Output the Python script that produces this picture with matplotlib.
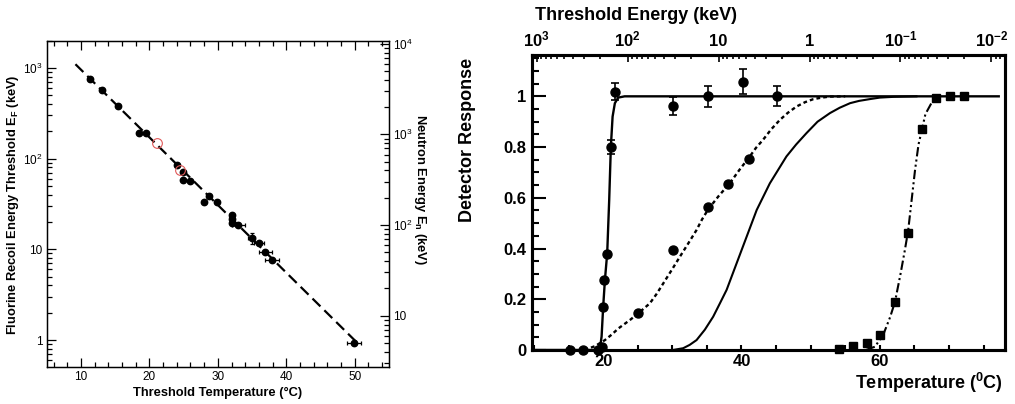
import matplotlib
matplotlib.use('Agg')
import matplotlib.pyplot as plt
from matplotlib.ticker import MultipleLocator, FixedLocator, FixedFormatter, LogLocator, NullFormatter
import numpy as np

plt.rcParams['font.family'] = ['Liberation Sans', 'DejaVu Sans']
plt.rcParams['mathtext.fontset'] = 'custom'
plt.rcParams['mathtext.rm'] = 'Liberation Sans'
plt.rcParams['mathtext.it'] = 'Liberation Sans:italic'
plt.rcParams['mathtext.bf'] = 'Liberation Sans:bold'

# ---------------- Left panel data ----------------
thr_T = [11.4, 13.1, 15.45, 18.45, 19.5, 24.0, 24.95, 24.95, 26.0, 27.95, 28.7, 29.9,
         32.0, 32.0, 32.0, 33.0, 34.95, 36.0, 36.95, 37.95, 49.9]
thr_E = [762, 571, 381, 190, 190, 85, 72, 58, 57, 33.6, 39, 33.6,
         24, 21.5, 19.4, 18.6, 13.2, 11.7, 9.45, 7.6, 0.92]
thr_Terr = [0, 0, 0, 0, 0, 0, 0, 0, 0, 0, 0, 0,
            0, 0, 0, 1.0, 0.5, 0.75, 0.95, 1.0, 1.0]
thr_Eerr = [0, 0, 0, 0, 0, 0, 0, 0, 0, 0, 0, 0,
            0, 0, 0, 0, 1.8, 0, 0, 0, 0]
red_T = [21.05, 24.45]
red_E = [148, 75]
fit_T = [9.2, 50.7]
fit_E = [1100, 0.88]
left_yticks = [1, 10, 100, 1000]
left_ylabels = ['1', '10', '$10^{2}$', '$10^{3}$']
neutron_factor = 5.4
right_yticks = [10, 100, 1000, 10000]
right_ylabels = ['10', '$10^{2}$', '$10^{3}$', '$10^{4}$']

# ---------------- Right panel data ----------------
a_T = [15.2, 17.1, 19.3, 19.9, 20.0, 20.15, 20.6, 21.2, 21.7, 30.1, 35.2, 40.15, 45.1]
a_R = [0, 0, 0, 0.013, 0.171, 0.276, 0.380, 0.80, 1.019, 0.963, 1.0, 1.058, 1.0]
a_err = [0, 0, 0, 0, 0, 0, 0, 0.026, 0.033, 0.036, 0.041, 0.05, 0.039]
b_T = [25.1, 30.05, 35.2, 38.1, 41.1]
b_R = [0.145, 0.394, 0.565, 0.654, 0.752]
c_T = [54.15, 56.15, 58.1, 60.1, 62.2, 64.1, 66.1, 68.1, 70.1, 72.2]
c_R = [0.004, 0.016, 0.026, 0.059, 0.19, 0.46, 0.87, 0.995, 1.0, 1.002]

curveA_T = [9.7, 19.5, 19.77, 20.0, 20.25, 20.58, 20.87, 21.11, 21.36, 21.69, 22.17, 23.1, 77.2]
curveA_R = [0, 0, 0.053, 0.171, 0.276, 0.381, 0.592, 0.802, 0.92, 0.973, 0.995, 1.0, 1.0]
curveB_T = [17.3, 18.8, 20.25, 21.2, 22.2, 23.86, 24.5, 25.1, 26.75, 27.7, 28.7, 29.9, 31.1,
            32.3, 33.5, 34.3, 35.2, 36.7, 38.3, 39.7, 41.2, 42.1, 43.1, 44.3, 45.55, 46.7,
            47.97, 49.2, 50.4, 51.6, 52.8, 55.0]
curveB_R = [0, 0.015, 0.039, 0.06, 0.085, 0.118, 0.132, 0.145, 0.184, 0.22, 0.263, 0.315, 0.368,
            0.42, 0.473, 0.515, 0.555, 0.607, 0.657, 0.71, 0.763, 0.797, 0.828, 0.87, 0.907, 0.935,
            0.96, 0.977, 0.989, 0.995, 0.999, 1.0]
curveC_T = [30.1, 31.57, 32.5, 33.5, 34.7, 35.9, 36.9, 37.85, 39.3, 40.75, 42.2, 44.1, 46.5,
            47.9, 49.4, 51.0, 52.8, 54.2, 55.7, 57.0, 58.55, 60.0, 62.0, 65.3]
curveC_R = [0, 0.007, 0.02, 0.039, 0.08, 0.131, 0.185, 0.237, 0.342, 0.447, 0.552, 0.657, 0.763,
            0.81, 0.855, 0.90, 0.934, 0.955, 0.973, 0.982, 0.989, 0.995, 0.998, 1.0]
curveD_T = [58.0, 59.3, 60.5, 61.5, 62.2, 63.0, 63.6, 64.1, 64.6, 65.1, 65.6, 66.1, 66.6, 67.6, 68.5]
curveD_R = [0, 0.013, 0.06, 0.13, 0.19, 0.30, 0.39, 0.47, 0.59, 0.71, 0.81, 0.87, 0.93, 0.98, 1.0]

resp_yticks = [0, 0.2, 0.4, 0.6, 0.8, 1.0]
resp_ylabels = ['0', '0.2', '0.4', '0.6', '0.8', '1']
temp_ticks = [20, 40, 60]
energy_ticks = [1e3, 1e2, 10, 1, 0.1, 0.01]
energy_labels = [r'$\mathbf{10^{3}}$', r'$\mathbf{10^{2}}$', '10', '1',
                 r'$\mathbf{10^{-1}}$', r'$\mathbf{10^{-2}}$']
energy_lim = (1130, 0.0071)

fig = plt.figure(figsize=(10.15, 4.04), dpi=100)

# ================= LEFT PANEL =================
ax1 = fig.add_axes([0.0460, 0.0916, 0.3372, 0.8077])
ax1.set_yscale('log')
ax1.set_xlim(5, 55)
ax1.set_ylim(0.504, 2000)
ax1.plot(fit_T, fit_E, color='k', lw=1.6, dashes=(5, 2.5))

tT = np.array(thr_T); tE = np.array(thr_E)
tTe = np.array(thr_Terr); tEe = np.array(thr_Eerr)
m = (tTe > 0) | (tEe > 0)
ax1.errorbar(tT[m], tE[m], xerr=tTe[m], yerr=tEe[m], fmt='none', ecolor='k',
             elinewidth=0.9, capsize=1.6, capthick=0.9)
ax1.plot(tT, tE, 'o', color='k', ms=4.6, zorder=3)
ax1.plot(red_T, red_E, 'o', mfc='none', mec='#e05858', ms=7, mew=0.8, zorder=4)

ax1.xaxis.set_major_locator(MultipleLocator(10))
ax1.xaxis.set_minor_locator(MultipleLocator(2))
ax1.yaxis.set_major_locator(FixedLocator(left_yticks))
ax1.yaxis.set_major_formatter(FixedFormatter(left_ylabels))
ax1.yaxis.set_minor_locator(LogLocator(base=10, subs=np.arange(2, 10), numticks=20))
ax1.yaxis.set_minor_formatter(NullFormatter())
ax1.tick_params(which='both', direction='in', top=True, right=False, labelsize=8.5, width=0.9)
ax1.tick_params(which='major', length=6.5, pad=3)
ax1.tick_params(which='minor', length=3.8)
for s in ax1.spines.values():
    s.set_linewidth(1.0)

ax1r = ax1.twinx()
ax1r.set_yscale('log')
ax1r.set_ylim(0.504 * neutron_factor, 2000 * neutron_factor)
ax1r.yaxis.set_major_locator(FixedLocator(right_yticks))
ax1r.yaxis.set_major_formatter(FixedFormatter(right_ylabels))
ax1r.yaxis.set_minor_locator(LogLocator(base=10, subs=np.arange(2, 10), numticks=20))
ax1r.yaxis.set_minor_formatter(NullFormatter())
ax1r.tick_params(which='both', direction='in', labelsize=8.5, width=0.9, pad=3)
ax1r.tick_params(which='major', length=6.5)
ax1r.tick_params(which='minor', length=3.8)

fig.text(218 / 1015, 1 - 393 / 404, 'Threshold Temperature (°C)', ha='center', va='center',
         fontsize=9.3, fontweight='bold')
fig.text(13 / 1015, 1 - 205 / 404, r'Fluorine Recoil Energy Threshold E$_\mathbf{F}$ (keV)',
         ha='center', va='center', rotation=90, fontsize=9.3, fontweight='bold')
fig.text(420 / 1015, 1 - 190 / 404, r'Neutron Energy E$_\mathbf{n}$ (keV)',
         ha='center', va='center', rotation=270, fontsize=9.3, fontweight='bold')

# ================= RIGHT PANEL =================
ax2 = fig.add_axes([0.5241, 0.1337, 0.4660, 0.7302])
ax2.set_xlim(9.7, 78.1)
ax2.set_ylim(0, 1.163)

ax2.plot(curveA_T, curveA_R, color='k', lw=1.7)
ax2.plot(curveB_T, curveB_R, color='k', lw=1.7, dashes=(1.6, 1.3))
ax2.plot(curveC_T, curveC_R, color='k', lw=1.5)
ax2.plot(curveD_T, curveD_R, color='k', lw=1.5, dashes=(4.5, 1.5, 1, 1.5, 1, 1.5))

aT = np.array(a_T); aR = np.array(a_R); aE = np.array(a_err)
ma = aE > 0
ax2.errorbar(aT[ma], aR[ma], yerr=aE[ma], fmt='none', ecolor='k', elinewidth=1.2,
             capsize=3, capthick=1.2)
ax2.plot(aT, aR, 'o', color='k', ms=6.5, clip_on=False, zorder=4)
ax2.plot(b_T, b_R, 'o', color='k', ms=6.5, clip_on=False, zorder=4)
ax2.plot(c_T, c_R, 's', color='k', ms=5.8, clip_on=False, zorder=4)

ax2.set_yticks(resp_yticks, resp_ylabels, fontweight='bold')
ax2.yaxis.set_minor_locator(MultipleLocator(0.05))
ax2.set_xticks(temp_ticks, [str(t) for t in temp_ticks], fontweight='bold')
ax2.xaxis.set_minor_locator(MultipleLocator(5))
ax2.tick_params(which='both', direction='in', right=False, top=False, labelsize=12, width=1.5)
ax2.tick_params(axis='y', which='major', length=10, pad=4)
ax2.tick_params(axis='y', which='minor', length=5)
ax2.tick_params(axis='x', which='both', length=3.5, pad=3)
for s in ax2.spines.values():
    s.set_linewidth(2.2)

ax2t = ax2.twiny()
ax2t.set_xscale('log')
ax2t.set_xlim(*energy_lim)
ax2t.set_xticks(energy_ticks, energy_labels, fontweight='bold')
ax2t.xaxis.set_minor_locator(LogLocator(base=10, subs=np.arange(2, 10), numticks=20))
ax2t.xaxis.set_minor_formatter(NullFormatter())
ax2t.tick_params(which='both', direction='in', labelsize=12, width=1.2, pad=4)
ax2t.tick_params(which='major', length=5)
ax2t.tick_params(which='minor', length=2.8)
for s in ax2t.spines.values():
    s.set_linewidth(2.2)

fig.text(535 / 1015, 1 - 15.5 / 404, 'Threshold Energy (keV)', ha='left', va='center',
         fontsize=13, fontweight='bold')
fig.text(467 / 1015, 1 - 140 / 404, 'Detector Response', ha='center', va='center',
         rotation=90, fontsize=13, fontweight='bold')
fig.text(1003 / 1015, 1 - 383 / 404, r'Temperature ($\mathbf{^{0}}$C)', ha='right', va='center',
         fontsize=13, fontweight='bold')

fig.savefig('out.png', dpi=100)
